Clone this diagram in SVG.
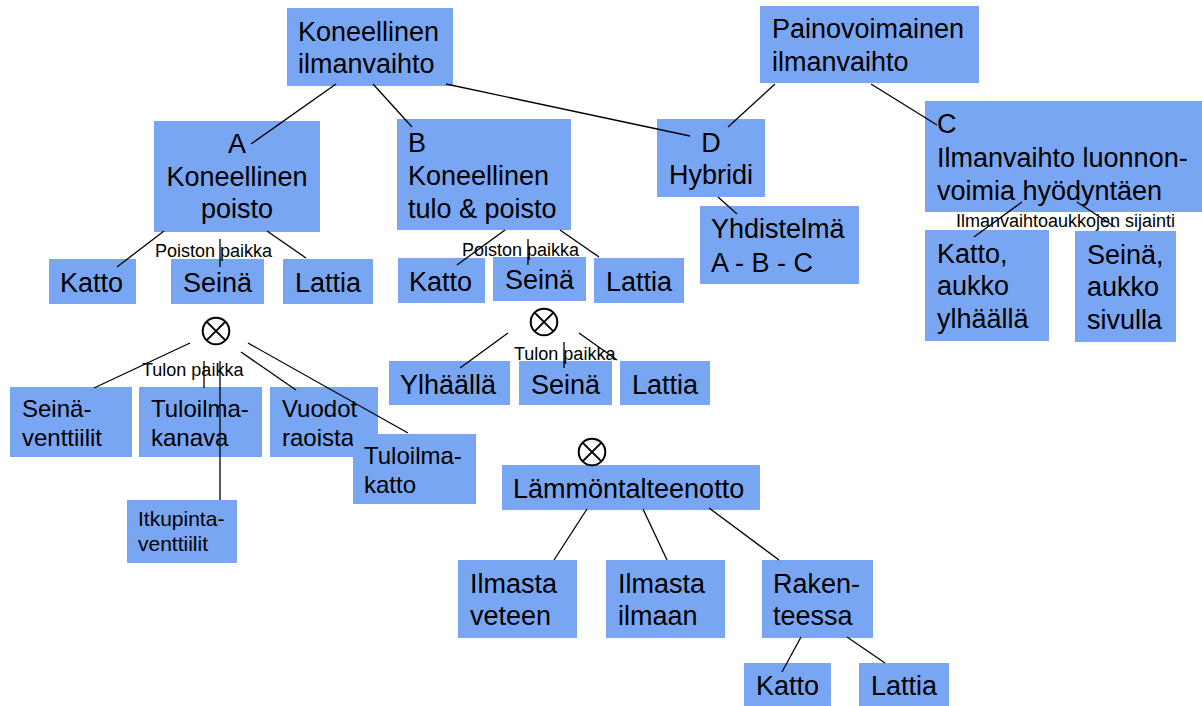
<svg xmlns="http://www.w3.org/2000/svg" width="1202" height="706" viewBox="0 0 1202 706">
<style>
.b{fill:#78A6F2}
.t{font-family:"Liberation Sans",Arial,sans-serif;font-size:27px;fill:#000}
.m{font-family:"Liberation Sans",Arial,sans-serif;font-size:24px;fill:#000}
.s{font-family:"Liberation Sans",Arial,sans-serif;font-size:21px;fill:#000}
.l{font-family:"Liberation Sans",Arial,sans-serif;font-size:18px;fill:#000}
.c{text-anchor:middle}
#connectors line{stroke:#000;stroke-width:1.3}
.x{fill:none;stroke:#000;stroke-width:2}
</style>
<defs>
<g id="otimes"><circle class="x" cx="0" cy="0" r="13.3"/><line class="x" x1="-9.4" y1="-9.4" x2="9.4" y2="9.4"/><line class="x" x1="-9.4" y1="9.4" x2="9.4" y2="-9.4"/></g>
</defs>
<rect width="1202" height="706" fill="#fff"/>

<g id="n-koneellinen"><rect class="b" x="287" y="8" width="166" height="78"/><text class="t" x="298" y="41">Koneellinen</text><text class="t" x="298" y="73">ilmanvaihto</text></g>
<g id="n-painovoimainen"><rect class="b" x="760" y="6" width="219" height="77"/><text class="t" x="772" y="38">Painovoimainen</text><text class="t" x="772" y="71">ilmanvaihto</text></g>
<g id="n-a"><rect class="b" x="154" y="121" width="166" height="111"/><text class="t c" x="237" y="153">A</text><text class="t c" x="237" y="186">Koneellinen</text><text class="t c" x="237" y="218">poisto</text></g>
<g id="n-b"><rect class="b" x="397" y="119" width="174" height="111"/><text class="t" x="408" y="152">B</text><text class="t" x="408" y="185">Koneellinen</text><text class="t" x="408" y="218">tulo &amp; poisto</text></g>
<g id="n-d"><rect class="b" x="657" y="119" width="108" height="78"/><text class="t c" x="711" y="152">D</text><text class="t c" x="711" y="184">Hybridi</text></g>
<g id="n-c"><rect class="b" x="925" y="101" width="277" height="111"/><text class="t" x="937" y="133">C</text><text class="t" x="937" y="167">Ilmanvaihto luonnon-</text><text class="t" x="937" y="200">voimia hyödyntäen</text></g>
<g id="n-yhdistelma"><rect class="b" x="700" y="206" width="159" height="78"/><text class="t" x="711" y="238">Yhdistelmä</text><text class="t" x="711" y="272">A - B - C</text></g>

<g id="n-a-katto"><rect class="b" x="49" y="259" width="87" height="45"/><text class="t" x="60" y="292">Katto</text></g>
<g id="n-a-seina"><rect class="b" x="171" y="259" width="93" height="45"/><text class="t" x="183" y="292">Seinä</text></g>
<g id="n-a-lattia"><rect class="b" x="283" y="259" width="90" height="45"/><text class="t" x="295" y="292">Lattia</text></g>
<g id="n-b-katto"><rect class="b" x="398" y="258" width="87" height="45"/><text class="t" x="409" y="291">Katto</text></g>
<g id="n-b-seina"><rect class="b" x="493" y="257" width="93" height="44"/><text class="t" x="505" y="289">Seinä</text></g>
<g id="n-b-lattia"><rect class="b" x="594" y="258" width="90" height="45"/><text class="t" x="606" y="291">Lattia</text></g>

<g id="n-c-katto"><rect class="b" x="925" y="230" width="124" height="111"/><text class="t" x="937" y="263">Katto,</text><text class="t" x="937" y="295">aukko</text><text class="t" x="937" y="328">ylhäällä</text></g>
<g id="n-c-seina"><rect class="b" x="1075" y="231" width="101" height="111"/><text class="t" x="1087" y="264">Seinä,</text><text class="t" x="1087" y="296">aukko</text><text class="t" x="1087" y="329">sivulla</text></g>

<g id="n-b-ylhaalla"><rect class="b" x="389" y="361" width="121" height="44"/><text class="t" x="400" y="394">Ylhäällä</text></g>
<g id="n-b-seina2"><rect class="b" x="519" y="361" width="93" height="44"/><text class="t" x="531" y="394">Seinä</text></g>
<g id="n-b-lattia2"><rect class="b" x="620" y="361" width="90" height="44"/><text class="t" x="632" y="394">Lattia</text></g>

<g id="n-seinaventtiilit"><rect class="b" x="10" y="387" width="122" height="70"/><text class="m" x="22" y="417">Seinä-</text><text class="m" x="22" y="446">venttiilit</text></g>
<g id="n-tuloilmakanava"><rect class="b" x="139" y="387" width="123" height="70"/><text class="m" x="151" y="417">Tuloilma-</text><text class="m" x="151" y="446">kanava</text></g>
<g id="n-vuodot"><rect class="b" x="270" y="387" width="108" height="70"/><text class="m" x="282" y="417">Vuodot</text><text class="m" x="282" y="446">raoista</text></g>
<g id="n-tuloilmakatto"><rect class="b" x="353" y="434" width="123" height="70"/><text class="m" x="364" y="464">Tuloilma-</text><text class="m" x="364" y="493">katto</text></g>
<g id="n-itkupinta"><rect class="b" x="127" y="500" width="110" height="63"/><text class="s" x="138" y="526">Itkupinta-</text><text class="s" x="138" y="551">venttiilit</text></g>

<g id="n-lammontalteenotto"><rect class="b" x="502" y="465" width="258" height="45"/><text class="t" x="513" y="498">Lämmöntalteenotto</text></g>
<g id="n-veteen"><rect class="b" x="458" y="560" width="119" height="78"/><text class="t" x="470" y="593">Ilmasta</text><text class="t" x="470" y="625">veteen</text></g>
<g id="n-ilmaan"><rect class="b" x="606" y="560" width="119" height="78"/><text class="t" x="618" y="593">Ilmasta</text><text class="t" x="618" y="625">ilmaan</text></g>
<g id="n-rakenteessa"><rect class="b" x="762" y="560" width="111" height="78"/><text class="t" x="773" y="593">Raken-</text><text class="t" x="773" y="625">teessa</text></g>
<g id="n-r-katto"><rect class="b" x="744" y="663" width="87" height="43"/><text class="t" x="756" y="695">Katto</text></g>
<g id="n-r-lattia"><rect class="b" x="859" y="663" width="90" height="43"/><text class="t" x="871" y="695">Lattia</text></g>

<g id="connectors">
<line x1="336" y1="84" x2="251" y2="144"/>
<line x1="373" y1="84" x2="412" y2="127"/>
<line x1="446" y1="84" x2="690" y2="136"/>
<line x1="775" y1="84" x2="728" y2="127"/>
<line x1="871" y1="84" x2="937" y2="125"/>
<line x1="718" y1="197" x2="737" y2="214"/>
<line x1="164" y1="231" x2="117" y2="267"/>
<line x1="220" y1="239" x2="220" y2="267"/>
<line x1="267" y1="231" x2="306" y2="258"/>
<line x1="505" y1="230" x2="457" y2="265"/>
<line x1="528" y1="239" x2="528" y2="265"/>
<line x1="560" y1="230" x2="599" y2="257"/>
<line x1="508" y1="333" x2="460" y2="368"/>
<line x1="564" y1="342" x2="564" y2="368"/>
<line x1="579" y1="333" x2="617" y2="360"/>
<line x1="1022" y1="202" x2="974" y2="237"/>
<line x1="1077" y1="202" x2="1115" y2="227"/>
<line x1="190" y1="343" x2="94" y2="388"/>
<line x1="204" y1="361" x2="204" y2="388"/>
<line x1="220" y1="361" x2="220" y2="500"/>
<line x1="241" y1="352" x2="296" y2="390"/>
<line x1="248" y1="343" x2="408" y2="433"/>
<line x1="587" y1="509" x2="554" y2="560"/>
<line x1="643" y1="509" x2="667" y2="560"/>
<line x1="709" y1="508" x2="779" y2="560"/>
<line x1="801" y1="637" x2="782" y2="672"/>
<line x1="847" y1="637" x2="885" y2="663"/>
</g>

<g id="labels">
<text class="l" x="155" y="257">Poiston paikka</text>
<text class="l" x="462" y="256">Poiston paikka</text>
<text class="l" x="142" y="376">Tulon paikka</text>
<text class="l" x="514" y="360">Tulon paikka</text>
<text class="l" x="956" y="227">Ilmanvaihtoaukkojen sijainti</text>
</g>

<g id="n-otimes1"><use href="#otimes" x="216" y="331"/></g>
<g id="n-otimes2"><use href="#otimes" x="544" y="322"/></g>
<g id="n-otimes3"><use href="#otimes" x="592" y="452"/></g>
</svg>
